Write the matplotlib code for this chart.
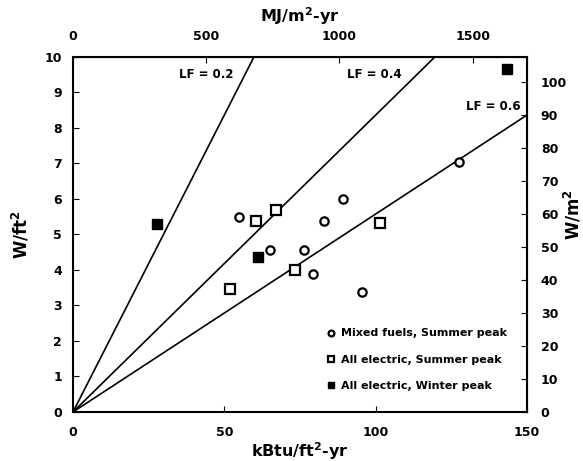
import numpy as np
import matplotlib; matplotlib.use("Agg")
import matplotlib.pyplot as plt

plt.rcParams["font.family"] = ["DejaVu Sans"]
plt.rcParams["font.weight"] = "bold"

# energy intensity (kBtu/ft2-yr) vs peak demand (W/ft2)
mixed_x = [54.8, 83.1, 89.2, 65.0, 76.3, 79.3, 95.5, 127.5]
mixed_y = [5.48, 5.38, 6.00, 4.57, 4.57, 3.88, 3.39, 7.04]
elec_sum_x = [60.4, 67.2, 101.5, 73.2, 51.9]
elec_sum_y = [5.38, 5.69, 5.31, 3.99, 3.46]
elec_win_x = [27.8, 61.0, 143.4]
elec_win_y = [5.30, 4.37, 9.66]

load_factors = [0.2, 0.4, 0.6]
lf_label_x = [35.0, 90.5, 129.8]
lf_label_y = [9.5, 9.5, 8.6]

KBTU_TO_MJ = 11.357      # kBtu/ft2 -> MJ/m2
WFT2_TO_WM2 = 10.764     # W/ft2 -> W/m2
HOURS = 8760.0
KBTU_WH = 293.07

fig = plt.figure(figsize=(5.83, 4.61), dpi=100)
ax = fig.add_axes([0.1252, 0.1063, 0.7787, 0.7701])

xline = np.array([0, 150])
for lf in load_factors:
    ax.plot(xline, xline * KBTU_WH / HOURS / lf, color="black", lw=1.2)
for lf, tx, ty in zip(load_factors, lf_label_x, lf_label_y):
    ax.text(tx, ty, f"LF = {lf}", fontsize=8.5, fontweight="bold", va="center")

ax.plot(mixed_x, mixed_y, "o", ms=6, mfc="white", mec="black", mew=1.6, ls="none",
        label="Mixed fuels, Summer peak")
ax.plot(elec_sum_x, elec_sum_y, "s", ms=6.5, mfc="white", mec="black", mew=1.6, ls="none",
        label="All electric, Summer peak")
ax.plot(elec_win_x, elec_win_y, "s", ms=6.5, mfc="black", mec="black", ls="none",
        label="All electric, Winter peak")

ax.set_xlim(0, 150)
ax.set_ylim(0, 10)
ax.set_xticks([0, 50, 100, 150])
ax.set_yticks(range(0, 11))
ax.tick_params(direction="in", labelsize=9, length=4)
ax.tick_params(axis="x", pad=10)
ax.tick_params(axis="y", pad=8)
for s in ax.spines.values():
    s.set_linewidth(1.5)
ax.set_xlabel("kBtu/ft$^2$-yr", fontsize=11.5, fontweight="bold", labelpad=1)
ax.set_ylabel("W/ft$^2$", fontsize=12, fontweight="bold", labelpad=9)

top = ax.secondary_xaxis("top", functions=(lambda x: x * KBTU_TO_MJ, lambda m: m / KBTU_TO_MJ))
top.set_xticks([0, 500, 1000, 1500])
top.tick_params(direction="in", labelsize=9, length=4, pad=10)
top.set_xlabel("MJ/m$^2$-yr", fontsize=11.5, fontweight="bold", labelpad=6)

right = ax.secondary_yaxis("right", functions=(lambda w: w * WFT2_TO_WM2, lambda m: m / WFT2_TO_WM2))
right.set_yticks(range(0, 101, 10))
right.tick_params(direction="in", labelsize=9, length=4, pad=10)
fig.text(573 / 583, 1 - 215 / 461, "W/m$^2$", rotation=90, fontsize=12, fontweight="bold",
         ha="center", va="center")

ax.legend(loc="lower right", bbox_to_anchor=(0.955, 0.06), borderaxespad=0, borderpad=0,
          frameon=False, handletextpad=0.5, labelspacing=1.45, handlelength=0.8,
          markerscale=0.7, prop={"weight": "bold", "size": 8})

fig.savefig("out.png", dpi=100)
